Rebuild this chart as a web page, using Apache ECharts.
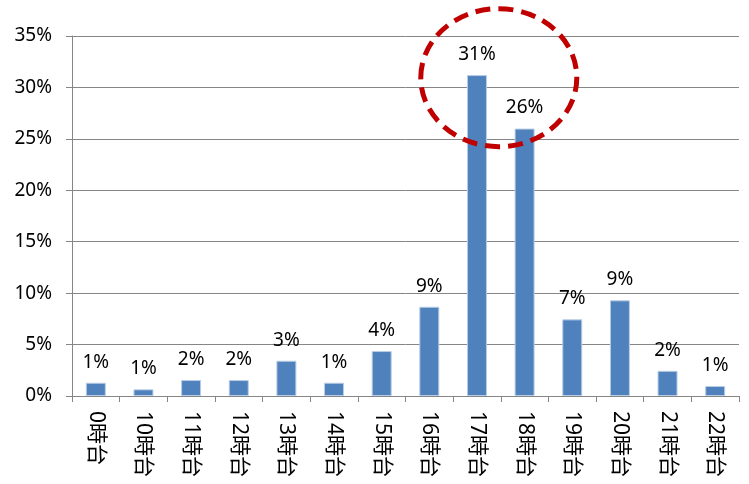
<!DOCTYPE html>
<html><head><meta charset="utf-8">
<script src="https://cdn.jsdelivr.net/npm/echarts@6/dist/echarts.min.js"></script>
<style>html,body{margin:0;padding:0;background:#fff}#c{width:749px;height:484px}</style>
</head><body><div id="c"></div>
<script>
const categories = ['0時台','10時台','11時台','12時台','13時台','14時台','15時台','16時台','17時台','18時台','19時台','20時台','21時台','22時台'];
const values = [1.29, 0.65, 1.55, 1.55, 3.43, 1.29, 4.37, 8.68, 31.2, 26.0, 7.45, 9.3, 2.45, 0.97];
const yTicks = [0,5,10,15,20,25,30,35];
const highlightPair = ['17時台','18時台'];
const highlightValue = 30.95;

const font = '"Noto Sans", "Noto Sans CJK JP", sans-serif';
const chart = echarts.init(document.getElementById('c'));
chart.setOption({
  animation:false,
  grid:{left:72,right:10,top:36,bottom:88},
  xAxis:{type:'category',data:categories,
    axisLine:{lineStyle:{color:'#868686',width:1}},
    axisTick:{show:true,alignWithLabel:false,length:6,lineStyle:{color:'#868686'}},
    axisLabel:{rotate:-90,interval:0,margin:15,color:'#000',fontSize:21,fontFamily:font}},
  yAxis:{type:'value',min:yTicks[0],max:yTicks[yTicks.length-1],interval:yTicks[1]-yTicks[0],
    axisLine:{show:true,lineStyle:{color:'#868686'}},
    axisTick:{show:true,length:6,lineStyle:{color:'#868686'}},
    splitLine:{lineStyle:{color:'#868686',width:1}},
    axisLabel:{margin:20,color:'#000',fontSize:19,fontFamily:font,formatter:v=>v+'%'}},
  series:[{type:'bar',data:values,barWidth:20,
    itemStyle:{color:'#4F81BD',borderColor:'#B9CDE5',borderWidth:1},
    label:{show:true,position:'top',distance:11,color:'#000',fontSize:19,fontFamily:font,
      formatter:p=>Math.round(p.value)+'%'}}]
});
const a = chart.convertToPixel({xAxisIndex:0,yAxisIndex:0},[highlightPair[0],highlightValue]);
const b = chart.convertToPixel({xAxisIndex:0,yAxisIndex:0},[highlightPair[1],highlightValue]);
chart.setOption({graphic:[{type:'ellipse',shape:{cx:(a[0]+b[0])/2-2,cy:a[1],rx:78,ry:69},
  style:{fill:'none',stroke:'#C00000',lineWidth:5,lineDash:[15,8]},z:100}]});
</script></body></html>
